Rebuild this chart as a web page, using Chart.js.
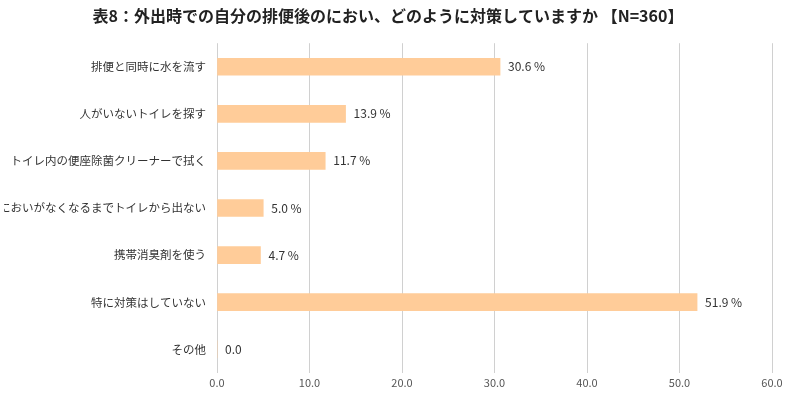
<!DOCTYPE html>
<html>
<head>
<meta charset="utf-8">
<script src="https://cdn.jsdelivr.net/npm/chart.js@4"></script>
<style>
body { margin: 0; background: #fff; }
#wrap { width: 800px; height: 402px; }
</style>
</head>
<body>
<div id="wrap"><canvas id="chart"></canvas></div>
<script>
'use strict';

const categories = ['排便と同時に水を流す', '人がいないトイレを探す', 'トイレ内の便座除菌クリーナーで拭く',
    'においがなくなるまでトイレから出ない', '携帯消臭剤を使う', '特に対策はしていない', 'その他'];
const percents = [30.6, 13.9, 11.7, 5.0, 4.7, 51.9, 0.0];
const xTicks = [0, 10, 20, 30, 40, 50, 60];

const valueLabels = {
    id: 'valueLabels',
    afterDatasetsDraw(chart) {
        const ctx = chart.ctx;
        const meta = chart.getDatasetMeta(0);
        ctx.save();
        ctx.font = '12px "Noto Sans CJK JP", sans-serif';
        ctx.fillStyle = '#333';
        ctx.textBaseline = 'middle';
        meta.data.forEach((bar, i) => {
            const v = percents[i];
            const text = v === 0 ? v.toFixed(1) : v.toFixed(1) + ' %';
            ctx.fillText(text, bar.x + 8, bar.y);
        });
        ctx.restore();
    }
};

const data = {
    labels: categories,
    datasets: [{
        data: percents,
        backgroundColor: '#FFCC99',
        barThickness: 17
    }]
};

const config = {
    type: 'bar',
    data: data,
    options: {
        indexAxis: 'y',
        responsive: true,
        maintainAspectRatio: false,
        animation: false,
        layout: { padding: { left: 4, right: 28, bottom: 10 } },
        plugins: {
            legend: { display: false },
            tooltip: { enabled: false },
            title: {
                display: true,
                text: '表8：外出時での自分の排便後のにおい、どのように対策していますか 【N=360】',
                color: '#222',
                font: { family: '"Noto Sans CJK JP", sans-serif', size: 16, weight: 'bold' },
                padding: { top: 6, bottom: 18 }
            }
        },
        scales: {
            x: {
                min: 0,
                max: 60,
                afterBuildTicks: axis => { axis.ticks = xTicks.map(v => ({ value: v })); },
                ticks: {
                    callback: v => v.toFixed(1),
                    color: '#555',
                    font: { family: '"Noto Sans CJK JP", sans-serif', size: 11 }
                },
                grid: { color: '#d0d0d0', drawTicks: false },
                border: { display: false }
            },
            y: {
                afterFit: s => { s.width = 213; },
                ticks: {
                    color: '#333',
                    font: { family: '"Noto Sans CJK JP", sans-serif', size: 11.5 }
                },
                grid: { display: false },
                border: { display: false }
            }
        }
    },
    plugins: [valueLabels]
};

new Chart(document.querySelector('#chart'), config);
</script>
</body>
</html>
